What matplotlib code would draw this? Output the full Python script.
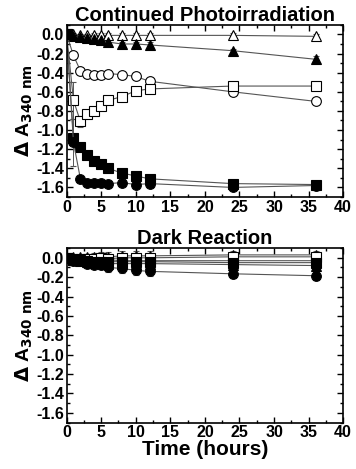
import numpy as np
import matplotlib
matplotlib.use("Agg")
import matplotlib.pyplot as plt
from matplotlib.ticker import MultipleLocator

plt.rcParams['font.family'] = ['Liberation Sans', 'DejaVu Sans']
plt.rcParams['font.weight'] = 'bold'
plt.rcParams['mathtext.default'] = 'bf'

# time points (hours)
t = [0, 1, 2, 3, 4, 5, 6, 8, 10, 12, 24, 36]

# continued photoirradiation
top_open_tri = [0, 0, -0.01, -0.01, -0.01, -0.01, -0.01, -0.01, -0.01, -0.01, -0.01, -0.02]
top_fill_tri = [0, -0.02, -0.03, -0.04, -0.05, -0.06, -0.08, -0.10, -0.10, -0.11, -0.17, -0.26]
top_open_circ = [0, -0.22, -0.38, -0.41, -0.42, -0.42, -0.41, -0.42, -0.44, -0.49, -0.60, -0.70]
top_open_sq = [0, -0.69, -0.91, -0.83, -0.80, -0.75, -0.69, -0.65, -0.59, -0.57, -0.54, -0.54]
top_fill_sq = [0, -1.08, -1.18, -1.26, -1.32, -1.36, -1.40, -1.45, -1.48, -1.51, -1.56, -1.57]
top_fill_circ = [0, -1.13, -1.51, -1.55, -1.55, -1.55, -1.56, -1.55, -1.57, -1.56, -1.60, -1.58]

top_err_open_tri = [0, 0.01, 0.01, 0.01, 0.02, 0.02, 0.02, 0.02, 0.02, 0.02, 0.02, 0.02]
top_err_fill_tri = [0, 0.01, 0.01, 0.01, 0.02, 0.02, 0.02, 0.02, 0.02, 0.03, 0.02, 0.03]
top_err_open_circ = [0, 0.02, 0.02, 0.02, 0.02, 0.02, 0.02, 0.02, 0.02, 0.03, 0.02, 0.02]
top_err_open_sq = [0, 0.19, 0.06, 0.04, 0.03, 0.03, 0.03, 0.02, 0.02, 0.02, 0.02, 0.02]
top_err_fill_sq = [0, 0.02, 0.02, 0.02, 0.02, 0.02, 0.02, 0.02, 0.02, 0.02, 0.02, 0.02]
top_err_fill_circ = [0, 0.25, 0.02, 0.01, 0.01, 0.01, 0.01, 0.01, 0.01, 0.01, 0.01, 0.01]

# dark reaction
dark_open_tri = [0, 0.01, 0.01, 0.01, 0.01, 0.01, 0.01, 0.02, 0.02, 0.02, 0.03, 0.03]
dark_open_sq = [0, -0.01, -0.01, -0.01, -0.01, 0.0, -0.01, 0.0, 0.0, 0.0, 0.01, 0.01]
dark_open_circ = [0, -0.01, -0.01, -0.02, -0.02, -0.02, -0.02, -0.03, -0.03, -0.03, -0.03, -0.03]
dark_fill_sq = [0, -0.02, -0.02, -0.03, -0.04, -0.04, -0.04, -0.04, -0.04, -0.04, -0.05, -0.05]
dark_fill_tri = [0, -0.02, -0.03, -0.04, -0.05, -0.05, -0.06, -0.06, -0.06, -0.06, -0.07, -0.08]
dark_fill_circ = [0, -0.03, -0.03, -0.06, -0.07, -0.07, -0.10, -0.11, -0.13, -0.14, -0.165, -0.185]

dark_err = [0, 0.02, 0.02, 0.03, 0.04, 0.05, 0.05, 0.05, 0.05, 0.05, 0.04, 0.04]

fig = plt.figure(figsize=(3.56, 4.69), dpi=100)
ax1 = fig.add_axes([0.187, 0.580, 0.777, 0.367])
ax2 = fig.add_axes([0.187, 0.099, 0.777, 0.372])

styles = [('^', 'white'), ('^', 'black'), ('o', 'white'),
          ('s', 'white'), ('s', 'black'), ('o', 'black')]


def draw(ax, series, errs):
    for (m, fc), y, e in zip(styles, series, errs):
        ax.errorbar(t, y, yerr=e, marker=m, mfc=fc, mec='black', mew=0.8,
                    ms=7, color='#555555', lw=0.8, ecolor='#555555',
                    elinewidth=0.7, capsize=2, capthick=0.7)


draw(ax1, [top_open_tri, top_fill_tri, top_open_circ, top_open_sq, top_fill_sq, top_fill_circ],
     [top_err_open_tri, top_err_fill_tri, top_err_open_circ, top_err_open_sq,
      top_err_fill_sq, top_err_fill_circ])
draw(ax2, [dark_open_tri, dark_fill_tri, dark_open_circ, dark_open_sq, dark_fill_sq, dark_fill_circ],
     [dark_err] * 6)

yt = np.round(np.arange(-1.6, 0.01, 0.2), 1)
for ax, title in [(ax1, 'Continued Photoirradiation'), (ax2, 'Dark Reaction')]:
    ax.set_xlim(0, 40)
    ax.set_ylim(-1.7, 0.1)
    ax.xaxis.set_major_locator(MultipleLocator(5))
    ax.xaxis.set_minor_locator(MultipleLocator(2.5))
    ax.yaxis.set_minor_locator(MultipleLocator(0.1))
    ax.tick_params(which='both', direction='in', top=True, right=True, width=1)
    ax.tick_params(which='major', length=4, labelsize=11.5, pad=2)
    ax.tick_params(which='minor', length=2)
    ax.set_yticks(yt)
    ax.set_yticklabels(['%.1f' % v if v != 0 else '0.0' for v in yt])
    for lab in ax.get_xticklabels() + ax.get_yticklabels():
        lab.set_fontweight('bold')
    for s in ax.spines.values():
        s.set_linewidth(1.2)
    ax.set_title(title, fontsize=14.5, fontweight='bold', pad=3)
    ax.set_ylabel(r'$\Delta$ A$_{340\ nm}$', fontsize=14, fontweight='bold', labelpad=1)

ax2.set_xlabel('Time (hours)', fontsize=15, fontweight='bold', labelpad=0)

fig.savefig('out.png', dpi=100)
